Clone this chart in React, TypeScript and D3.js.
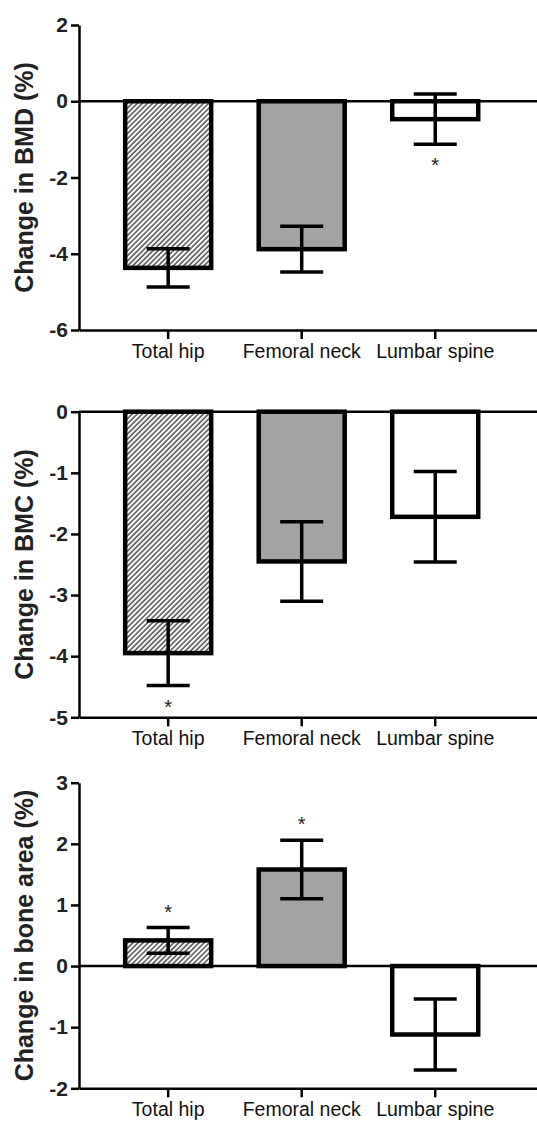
import React, { useEffect, useRef } from 'react';
import * as d3 from 'd3';

const categories = ['Total hip', 'Femoral neck', 'Lumbar spine'];

// Change in BMD (%)
const bmdMeans = [-4.37, -3.88, -0.47];
const bmdErrors = [0.5, 0.6, 0.66];
const bmdStars = [false, false, true];
const bmdTicks = [2, 0, -2, -4, -6];

// Change in BMC (%)
const bmcMeans = [-3.95, -2.45, -1.72];
const bmcErrors = [0.53, 0.65, 0.74];
const bmcStars = [true, false, false];
const bmcTicks = [0, -1, -2, -3, -4, -5];

// Change in bone area (%)
const areaMeans = [0.42, 1.58, -1.12];
const areaErrors = [0.21, 0.48, 0.58];
const areaStars = [true, true, false];
const areaTicks = [3, 2, 1, 0, -1, -2];

const barFills = ['url(#hatch)', '#a3a3a3', '#ffffff'];

const WIDTH = 537;
const HEIGHT = 1121;
const FONT = '"Liberation Sans", Arial, sans-serif';

interface Panel {
  label: string;
  means: number[];
  errors: number[];
  stars: boolean[];
  ticks: number[];
  top: number;
  bottom: number;
}

const panels: Panel[] = [
  { label: 'Change in BMD (%)', means: bmdMeans, errors: bmdErrors, stars: bmdStars, ticks: bmdTicks, top: 25, bottom: 330 },
  { label: 'Change in BMC (%)', means: bmcMeans, errors: bmcErrors, stars: bmcStars, ticks: bmcTicks, top: 411.7, bottom: 717.3 },
  { label: 'Change in bone area (%)', means: areaMeans, errors: areaErrors, stars: areaStars, ticks: areaTicks, top: 782.7, bottom: 1088.3 },
];

const App: React.FC = () => {
  const svgRef = useRef<SVGSVGElement>(null);

  useEffect(() => {
    if (!svgRef.current) return;
    const svg = d3.select(svgRef.current);
    svg.selectAll('*').remove();

    const axisX = 79;

    // hatch pattern for the total hip bars
    const defs = svg.append('defs');
    const pat = defs.append('pattern')
      .attr('id', 'hatch')
      .attr('patternUnits', 'userSpaceOnUse')
      .attr('width', 3.6)
      .attr('height', 3.6)
      .attr('patternTransform', 'rotate(45)');
    pat.append('rect').attr('width', 3.6).attr('height', 3.6).attr('fill', '#fff');
    pat.append('line')
      .attr('x1', 1).attr('y1', 0).attr('x2', 1).attr('y2', 3.6)
      .attr('stroke', '#333').attr('stroke-width', 1.3);

    const x = d3.scaleBand<string>()
      .domain(categories)
      .range([axisX, WIDTH])
      .paddingInner(0.356)
      .paddingOuter(0.393)
      .align(0.44);

    panels.forEach(p => {
      const ticks = p.ticks;
      const y = d3.scaleLinear()
        .domain([d3.min(ticks)!, d3.max(ticks)!])
        .range([p.bottom, p.top]);

      const g = svg.append('g');

      // y axis
      const yAxis = g.append('g')
        .attr('transform', `translate(${axisX},0)`)
        .call(d3.axisLeft(y).tickValues(ticks).tickFormat(d => String(d)).tickSize(8).tickSizeOuter(0).tickPadding(3));
      yAxis.select('.domain').attr('stroke', '#000').attr('stroke-width', 2.5);
      yAxis.selectAll('.tick line').attr('stroke', '#000').attr('stroke-width', 2.5);
      yAxis.selectAll('.tick text')
        .attr('fill', '#222')
        .style('font-family', FONT)
        .style('font-size', '21px')
        .style('font-weight', 'bold');

      // x axis at the bottom
      const xAxis = g.append('g')
        .attr('transform', `translate(0,${p.bottom})`)
        .call(d3.axisBottom(x).tickSize(9).tickSizeOuter(0).tickPadding(5));
      xAxis.select('.domain').attr('stroke', '#000').attr('stroke-width', 2.5);
      xAxis.selectAll('.tick line').attr('stroke', '#000').attr('stroke-width', 2.5);
      xAxis.selectAll('.tick text')
        .attr('fill', '#111')
        .style('font-family', FONT)
        .style('font-size', '19.5px');

      // zero line
      g.append('line')
        .attr('x1', axisX).attr('x2', WIDTH)
        .attr('y1', y(0)).attr('y2', y(0))
        .attr('stroke', '#000').attr('stroke-width', 2.5);

      // bars
      categories.forEach((c, i) => {
        const v = p.means[i];
        g.append('rect')
          .attr('x', x(c)!)
          .attr('width', x.bandwidth())
          .attr('y', Math.min(y(0), y(v)))
          .attr('height', Math.abs(y(v) - y(0)))
          .attr('fill', barFills[i])
          .attr('stroke', '#000')
          .attr('stroke-width', 4.5);
      });

      // error bars + significance stars
      categories.forEach((c, i) => {
        const v = p.means[i];
        const e = p.errors[i];
        const cx = x(c)! + x.bandwidth() / 2;
        const capHalf = 21.5;
        const yHi = y(v + e);
        const yLo = y(v - e);
        g.append('line')
          .attr('x1', cx).attr('x2', cx).attr('y1', yHi).attr('y2', yLo)
          .attr('stroke', '#000').attr('stroke-width', 3.5);
        [yHi, yLo].forEach(yy => {
          g.append('line')
            .attr('x1', cx - capHalf).attr('x2', cx + capHalf)
            .attr('y1', yy).attr('y2', yy)
            .attr('stroke', '#000').attr('stroke-width', 3.5);
        });

        if (p.stars[i]) {
          const centerY = v >= 0 ? yHi - 19 : yLo + 18;
          g.append('text')
            .attr('x', cx)
            .attr('y', centerY + 10)
            .attr('text-anchor', 'middle')
            .style('font-family', FONT)
            .style('font-size', '20px')
            .style('fill', '#222')
            .text('*');
        }
      });

      // y label
      g.append('text')
        .attr('transform', `translate(33,${(p.top + p.bottom) / 2}) rotate(-90)`)
        .attr('text-anchor', 'middle')
        .style('font-family', FONT)
        .style('font-size', '25px')
        .style('font-weight', 'bold')
        .style('fill', '#222')
        .text(p.label);
    });
  }, []);

  return (
    <svg
      ref={svgRef}
      width={WIDTH}
      height={HEIGHT}
      style={{ position: 'absolute', left: 0, top: 0, background: '#fff', display: 'block' }}
    />
  );
};

export default App;
